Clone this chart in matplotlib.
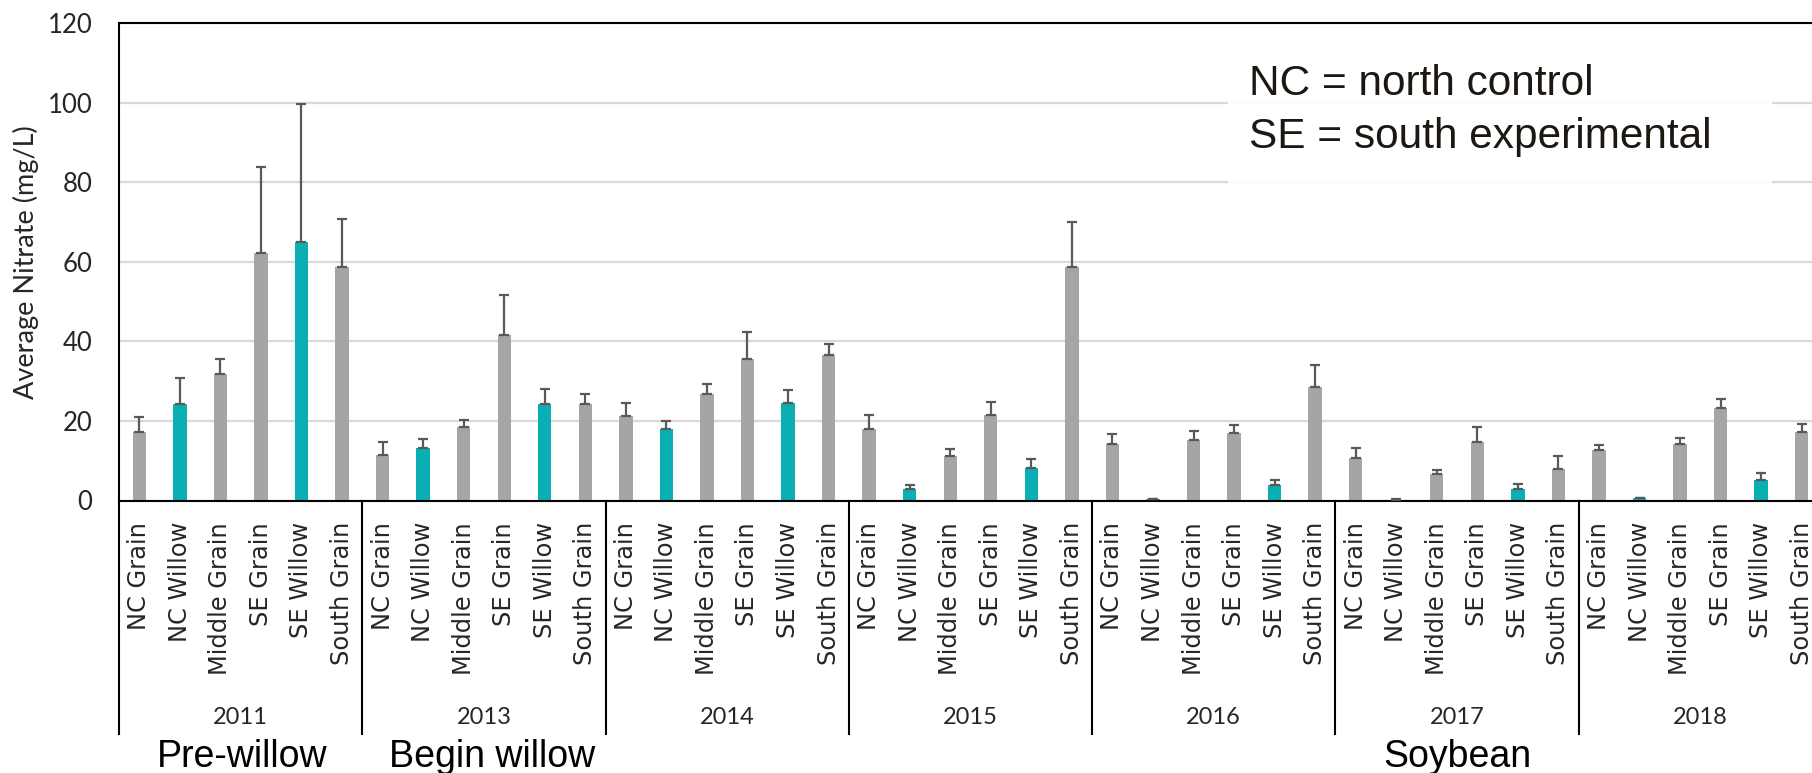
import matplotlib
matplotlib.use("Agg")
import matplotlib.pyplot as plt
import matplotlib.transforms as mtransforms
from matplotlib.patches import Rectangle
import numpy as np

# nitrate par année et par parcelle
years = ["2011", "2013", "2014", "2015", "2016", "2017", "2018"]
plots = ["NC Grain", "NC Willow", "Middle Grain", "SE Grain", "SE Willow", "South Grain"]
willow = [False, True, False, False, True, False]

nitrate = [
    [17.1, 24.2, 31.9, 62.2, 65.1, 58.7],   # 2011
    [11.5, 13.3, 18.4, 41.5, 24.2, 24.2],   # 2013
    [21.2, 18.1, 26.7, 35.7, 24.5, 36.7],   # 2014
    [18.1, 3.0, 11.2, 21.4, 8.1, 58.7],     # 2015
    [14.3, 0.4, 15.3, 16.9, 3.8, 28.6],     # 2016
    [10.7, 0.25, 6.6, 14.7, 3.0, 7.9],      # 2017
    [12.6, 0.6, 14.2, 23.2, 5.1, 17.1],     # 2018
]
err_top = [
    [20.9, 30.7, 35.6, 83.8, 99.7, 70.8],
    [14.8, 15.4, 20.3, 51.6, 28.0, 26.9],
    [24.5, 20.0, 29.2, 42.4, 27.7, 39.4],
    [21.5, 3.9, 12.9, 24.8, 10.5, 70.0],
    [16.7, 0.5, 17.4, 19.0, 5.2, 34.0],
    [13.1, 0.35, 7.7, 18.5, 4.2, 11.3],
    [13.9, 0.7, 15.7, 25.6, 7.0, 19.3],
]
periods = ["Pre-willow", "Begin willow", "Soybean"]
period_year = ["2011", "2013", "2017"]

GRAY = "#a5a5a5"
TEAL = "#0aafb4"
TXT = "#262626"

vals = np.array(nitrate).ravel()
errs = np.array(err_top).ravel() - vals
cols = [TEAL if w else GRAY for _ in years for w in willow]
labels = [p for _ in years for p in plots]
n_plot = len(plots)
x = np.arange(len(vals)) + 0.5

W, H = 1812, 773
fig = plt.figure(figsize=(W / 100, H / 100), dpi=100)
# l'axe dépasse un peu à droite (dernier groupe coupé)
ax = fig.add_axes([119 / W, 272.5 / H, 1703 / W, 477.2 / H])

ax.bar(x, vals, width=0.33, color=cols, zorder=2)
ax.errorbar(x, vals, yerr=[np.zeros_like(errs), errs], fmt="none",
            ecolor="#595959", elinewidth=1.6, capsize=3.5, capthick=1.6, zorder=3)

ax.set_xlim(0, len(vals))
ax.set_ylim(0, 120)
ax.set_yticks(np.arange(0, 121, 20))
ax.yaxis.grid(True, color="#d9d9d9", lw=1.6, zorder=0)
ax.set_axisbelow(True)
for s in ["left", "bottom", "top"]:
    ax.spines[s].set_linewidth(1.5)
    ax.spines[s].set_color("black")
ax.spines["right"].set_visible(False)

ax.set_xticks(x)
ax.set_xticklabels(labels, rotation=90)
ax.tick_params(axis="x", length=0, pad=15.5, labelsize=17.4, labelcolor=TXT)
ax.tick_params(axis="y", length=0, pad=19, labelsize=18.5, labelcolor=TXT)
for t in ax.get_xticklabels():
    t.set_fontfamily("DejaVu Sans")
for t in ax.get_yticklabels():
    t.set_fontfamily("Lato")

ax.set_ylabel("Average Nitrate (mg/L)", fontsize=19.5, family="Lato", color=TXT)
ax.yaxis.set_label_coords(-0.047, 0.5)

# séparateurs entre années + étiquettes d'années
trans = mtransforms.blended_transform_factory(ax.transData, ax.transAxes)
for k in range(len(years) + 1):
    ax.plot([k * n_plot, k * n_plot], [0, -0.49], transform=trans,
            color="black", lw=1.5, clip_on=False)
for k, yr in enumerate(years):
    ax.text((k + 0.5) * n_plot, -0.455, yr, transform=trans, ha="center",
            va="center", fontsize=17, family="Lato", color=TXT)
shift = {"Pre-willow": 0.05, "Begin willow": 0.2, "Soybean": 0.0}
for p, yr in zip(periods, period_year):
    k = years.index(yr)
    ax.text((k + 0.5) * n_plot + shift[p], -0.537, p, transform=trans,
            ha="center", va="center", fontsize=27,
            family="Liberation Sans", color="black")

# encadré des abréviations
box = Rectangle((1228 / W, 1 - 215 / H), 544 / W, 175 / H, transform=fig.transFigure,
                facecolor="white", edgecolor="none", alpha=0.9, zorder=1.5)
ax.add_patch(box)
fig.text(1249 / W, 1 - 84 / H, "NC = north control", ha="left", va="center",
         fontsize=30.5, family="Liberation Sans", color="#1c1710")
fig.text(1249 / W, 1 - 137 / H, "SE = south experimental", ha="left", va="center",
         fontsize=30.5, family="Liberation Sans", color="#1c1710")

fig.savefig("out.png", dpi=100)
